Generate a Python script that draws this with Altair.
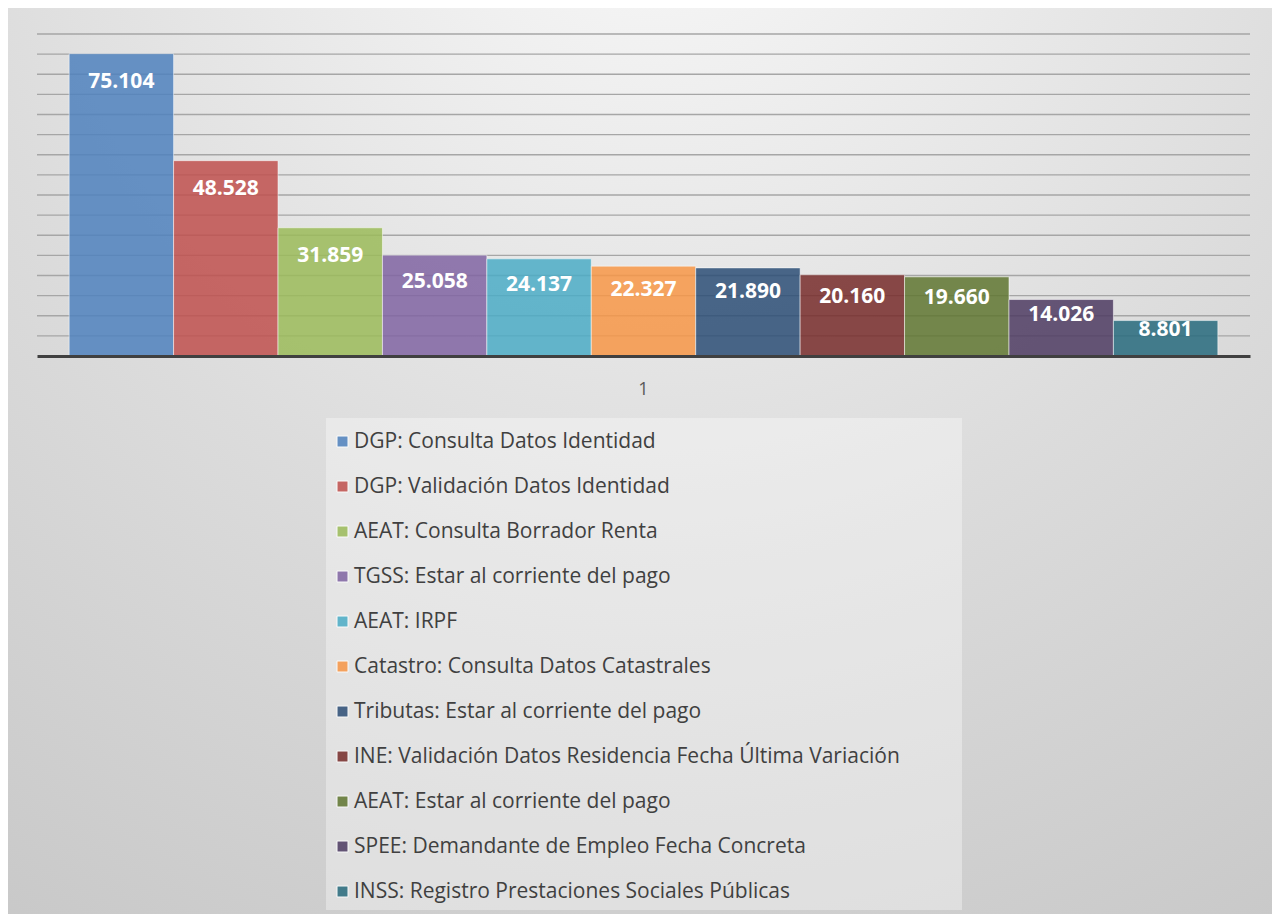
import altair as alt
import pandas as pd

categories = [
    "DGP: Consulta Datos Identidad",
    "DGP: Validación Datos Identidad",
    "AEAT: Consulta Borrador Renta",
    "TGSS: Estar al corriente del pago",
    "AEAT: IRPF",
    "Catastro: Consulta Datos Catastrales",
    "Tributas: Estar al corriente del pago",
    "INE: Validación Datos Residencia Fecha Última Variación",
    "AEAT: Estar al corriente del pago",
    "SPEE: Demandante de Empleo Fecha Concreta",
    "INSS: Registro Prestaciones Sociales Públicas",
]
values = [75104, 48528, 31859, 25058, 24137, 22327, 21890, 20160, 19660, 14026, 8801]
colors = ["#4F81BD", "#C0504D", "#9BBB59", "#8064A2", "#4BACC6", "#F79646",
          "#2C4D75", "#772C2A", "#5F7530", "#4D3B62", "#276A7C"]
group_label = "1"
grid_values = list(range(5000, 80001, 5000))
y_max = 80000

df = pd.DataFrame({
    "serie": categories,
    "valor": values,
    "grupo": [group_label] * len(categories),
    "etiqueta": [f"{v:,}".replace(",", ".") for v in values],
})

W, H = 1213, 322
y_scale = alt.Scale(domain=[0, y_max], nice=False)

x_enc = alt.X(
    "grupo:N", title=None,
    scale=alt.Scale(paddingInner=0, paddingOuter=0.028),
    axis=alt.Axis(labelAngle=0, ticks=False, domain=True, domainColor="#404040",
                  domainWidth=3, labelFont="Open Sans", labelFontSize=18,
                  labelColor="#595959", labelPadding=24, grid=False, zindex=1),
)
xoff = alt.XOffset("serie:N", sort=categories, scale=alt.Scale(paddingInner=0, paddingOuter=0))

bg = alt.Chart(pd.DataFrame({"k": [0]})).mark_rect(
    fill=alt.Gradient(
        gradient="radial",
        stops=[alt.GradientStop(color="#fafafa", offset=0),
               alt.GradientStop(color="#dcdcdc", offset=0.5),
               alt.GradientStop(color="#c3c3c3", offset=1)],
        x1=0.5, y1=0, x2=0.5, y2=0, r1=0, r2=1.1,
    ),
    stroke="#c8c8c8", strokeWidth=1,
).encode(x=alt.value(-31), x2=alt.value(1260), y=alt.value(-29), y2=alt.value(920))

legend_box = alt.Chart(pd.DataFrame({"k": [0]})).mark_rect(
    fill="#ffffff", opacity=0.35
).encode(x=alt.value(289), x2=alt.value(925), y=alt.value(384), y2=alt.value(876))

grid = alt.Chart(pd.DataFrame({"g": grid_values})).mark_rule(
    color="#a6a6a6", strokeWidth=1.4
).encode(y=alt.Y("g:Q", scale=y_scale, axis=None))

bars = alt.Chart(df).mark_bar(
    fillOpacity=0.85, stroke="#ffffff", strokeWidth=1, strokeOpacity=0.5
).encode(
    x=x_enc,
    xOffset=xoff,
    y=alt.Y("valor:Q", scale=y_scale, axis=None),
    color=alt.Color(
        "serie:N", sort=categories,
        scale=alt.Scale(domain=categories, range=colors),
        legend=alt.Legend(
            orient="none", legendX=295, legendY=397, title=None,
            symbolType="square", symbolSize=121, symbolOpacity=0.85,
            symbolStrokeColor="#ffffff", symbolStrokeWidth=1,
            labelFont="Open Sans", labelFontSize=21, labelColor="#404040",
            labelOffset=1, rowPadding=23, labelLimit=900, padding=0,
            direction="vertical",
        ),
    ),
)

labels = alt.Chart(df).transform_calculate(
    pos_etiqueta="max(datum.valor - 6957, datum.valor * 0.73)"
).mark_text(
    font="Open Sans", fontWeight="bold", fontSize=21, color="#ffffff",
    baseline="middle", align="center",
).encode(
    x=x_enc,
    xOffset=xoff,
    y=alt.Y("pos_etiqueta:Q", scale=y_scale, axis=None),
    text="etiqueta:N",
)

chart = alt.layer(bg, legend_box, grid, bars, labels).properties(
    width=W, height=H,
    padding={"left": 29, "top": 26, "right": 22, "bottom": 558},
    autosize="none",
    background="#ffffff",
).configure_view(strokeWidth=0)

chart.save("out.html", embed_options={"renderer": "svg", "actions": False})
